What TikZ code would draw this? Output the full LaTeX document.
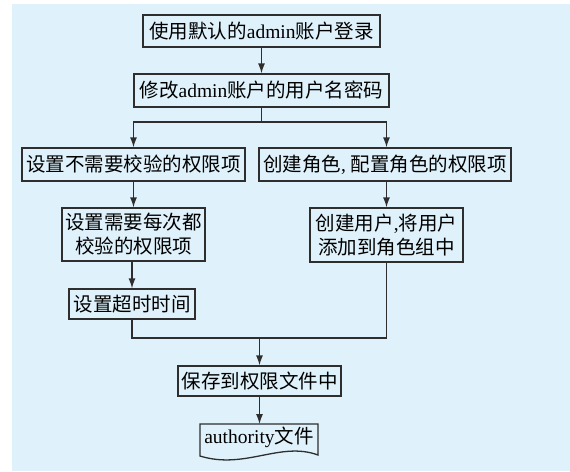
\documentclass[tikz,border=0pt]{standalone}
\usepackage{fontspec}
\setmainfont{Liberation Serif}
\newfontfamily\cjk{Noto Sans CJK SC}
\usetikzlibrary{arrows.meta}
\definecolor{bgblue}{HTML}{DFF1FA}
\definecolor{linegray}{HTML}{2E2E2E}
\tikzset{
  box/.style={draw=linegray, line width=1.3pt, fill=bgblue, inner sep=1pt, align=center,
    font=\fontsize{19.5}{24}\selectfont},
  conn/.style={draw=linegray, line width=1.3pt},
  arr/.style={conn, -{Latex[length=10pt,width=7pt]}}
}
\begin{document}
\begin{tikzpicture}[x=1pt,y=-1pt]
\useasboundingbox (0,0) rectangle (570,471);
\fill[bgblue] (12,4) rectangle (570,471);
\node[box, minimum width=237pt, minimum height=32pt] (b1) at (261.5,31) {{\cjk 使用默认的}admin{\cjk 账户登录}};
\node[box, minimum width=255pt, minimum height=33pt] (b2) at (261.5,90.5) {{\cjk 修改}admin{\cjk 账户的用户名密码}};
\node[box, minimum width=223pt, minimum height=33pt] (b3) at (133.5,164.5) {\cjk 设置不需要校验的权限项};
\node[box, minimum width=252pt, minimum height=33pt] (b4) at (385,164.5) {{\cjk 创建角色}, {\cjk 配置角色的权限项}};
\node[box, minimum width=143pt, minimum height=53pt] (b5) at (133.5,234.5) {{\cjk 设置需要每次都}\\{\cjk 校验的权限项}};
\node[box, minimum width=153pt, minimum height=54pt] (b6) at (386.5,235) {{\cjk 创建用户},{\cjk 将用户}\\{\cjk 添加到角色组中}};
\node[box, minimum width=126pt, minimum height=30pt] (b7) at (132,304) {\cjk 设置超时时间};
\node[box, minimum width=163pt, minimum height=30pt] (b8) at (259.5,381) {\cjk 保存到权限文件中};
\coordinate (d1) at (200,424);
\coordinate (d2) at (318,424);
\coordinate (d3) at (318,455);
\coordinate (d4) at (200,456);
\filldraw[conn, fill=bgblue] (d1) -- (d2) -- (d3) .. controls (280,441) and (245,470) .. (d4) -- cycle;
\node[font=\fontsize{19.5}{24}\selectfont, inner sep=0pt] (b9) at (259,437) {authority{\cjk 文件}};
\draw[arr] (b1.south) -- (b2.north);
\draw[arr] (b2.south) -- (b2.south |- 0,122) -| (b3.north);
\draw[arr] (b2.south |- 0,122) -| (b4.north -| b6.north);
\draw[arr] (b3.south) -- (b5.north);
\draw[arr] (b4.south -| b6.north) -- (b6.north);
\draw[arr] (b5.south -| b7.north) -- (b7.north);
\draw[conn] (b7.south) -- (b7.south |- 0,338) -- (b6.south |- 0,338) -- (b6.south);
\draw[arr] (b8.north |- 0,338) -- (b8.north);
\draw[arr] (b8.south) -- (b8.south |- d1);
\end{tikzpicture}
\end{document}
